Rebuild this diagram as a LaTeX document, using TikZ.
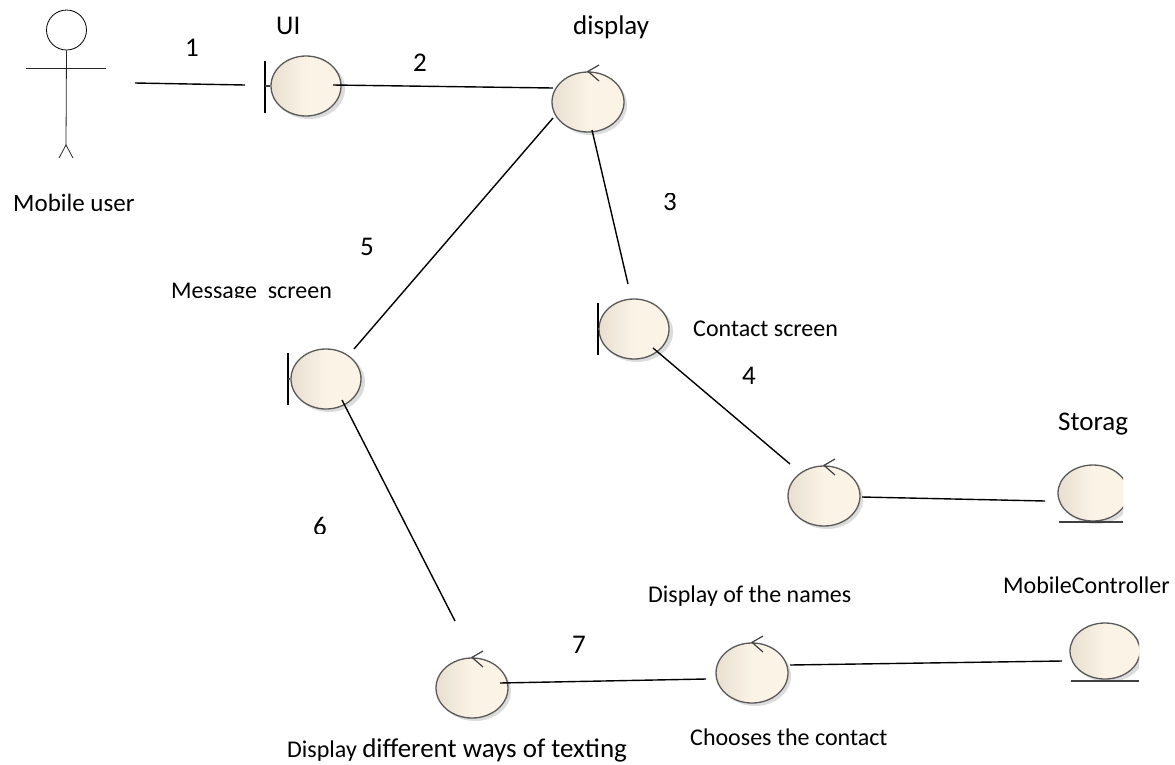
\documentclass[tikz,border=0pt]{standalone}
\usepackage{fontspec}
\usetikzlibrary{shapes.geometric}
\setmainfont{Carlito}
\definecolor{cL}{HTML}{E8DFD0}
\definecolor{cR}{HTML}{FBF3E6}
\newcommand{\shadowat}[3]{\fill[black!30,opacity=.45] (#1+3,#2+3) ellipse [x radius=36,y radius=#3];}
\begin{document}
\begin{tikzpicture}[x=1pt,y=-1pt,
  lbl/.style={font=\fontsize{24}{28}\selectfont,text=black,inner sep=0pt,anchor=base west},
  lblb/.style={font=\fontsize{27}{30}\selectfont,text=black,inner sep=0pt,anchor=base west},
  num/.style={font=\fontsize{27}{30}\selectfont,text=black,inner sep=0pt,anchor=base},
  link/.style={draw=black,line width=1.4pt},
  thin line/.style={draw=black!85,line width=.8pt},
  bubble/.style={ellipse,draw=black!65,line width=1.3pt,minimum width=72pt,minimum height=60pt,inner sep=0pt,
     left color=cL,right color=cR,middle color=cR,shading angle=90},
  mark line/.style={draw=black!75,line width=1.2pt},
]
\useasboundingbox (0,0) rectangle (1175,764);
% Actor
\node[circle,draw=black,line width=.8pt,minimum size=40pt,inner sep=0pt] (head) at (66.5,30) {};
\coordinate (crotch) at (66,145);
\coordinate (armL) at (26,68);
\coordinate (armR) at (106,68);
\coordinate (footL) at (59,158);
\coordinate (footR) at (73,158);
\draw[thin line] (head.south) -- (crotch);
\draw[thin line] (armL) -- (armR);
\draw[thin line] (footL) -- (crotch) -- (footR);
% Boundary objects
\shadowat{306}{86}{30}
\node[bubble,minimum width=70pt] (ui) at (306,86) {};
\coordinate (uiT) at (265,61); \coordinate (uiB) at (265,113); \coordinate (uiM) at (265,86);
\draw[mark line,draw=black] (uiT) -- (uiB); \draw[mark line] (uiM) -- (ui.west);
\shadowat{634}{329}{30}
\node[bubble,minimum width=70pt] (contact) at (634,329) {};
\coordinate (coT) at (598,303); \coordinate (coB) at (598,355); \coordinate (coM) at (598,329);
\draw[mark line,draw=black] (coT) -- (coB); \draw[mark line] (coM) -- (contact.west);
\shadowat{326}{379}{30}
\node[bubble,minimum width=70pt] (message) at (326,379) {};
\coordinate (meT) at (288,353); \coordinate (meB) at (288,405); \coordinate (meM) at (288,379);
\draw[mark line,draw=black] (meT) -- (meB); \draw[mark line] (meM) -- (message.west);
% Control objects
\shadowat{588}{102}{30}
\node[bubble] (display) at (588,102) {};
\coordinate (dA) at (599,65); \coordinate (dB) at (599,81);
\draw[mark line] (dA) -- (display.north) -- (dB);
\shadowat{824}{496}{30}
\node[bubble] (names) at (824,496) {};
\coordinate (nA) at (835,459); \coordinate (nB) at (835,475);
\draw[mark line] (nA) -- (names.north) -- (nB);
\shadowat{472}{688}{30}
\node[bubble] (texting) at (472,688) {};
\coordinate (tA) at (483,651); \coordinate (tB) at (483,667);
\draw[mark line] (tA) -- (texting.north) -- (tB);
\shadowat{752}{673}{30}
\node[bubble] (chooses) at (752,673) {};
\coordinate (cA) at (763,636); \coordinate (cB) at (763,652);
\draw[mark line] (cA) -- (chooses.north) -- (cB);
% Entity objects (cut off at the right)
\begin{scope}
\clip (1050,455) rectangle (1123,530);
\shadowat{1093}{493}{28}
\node[bubble,minimum width=70pt,minimum height=56pt] (storage) at (1093,493) {};
\end{scope}
\coordinate (sL) at (1059,522); \coordinate (sR) at (1123,522);
\draw[mark line] (sL) -- (sR);
\begin{scope}
\clip (1062,612) rectangle (1139,690);
\shadowat{1105}{651}{28}
\node[bubble,minimum width=70pt,minimum height=56pt] (mobile) at (1105,651) {};
\end{scope}
\coordinate (mL) at (1071,681); \coordinate (mR) at (1139,681);
\draw[mark line] (mL) -- (mR);
% Connectors
\coordinate (l1a) at (135,83);  \coordinate (l1b) at (245,85);
\coordinate (l2a) at (333,85);  \coordinate (l2b) at (553,88);
\coordinate (l3a) at (592,130); \coordinate (l3b) at (628,284);
\coordinate (l5a) at (553,118); \coordinate (l5b) at (354,349);
\coordinate (l4a) at (653,348); \coordinate (l4b) at (790,464);
\coordinate (l8a) at (862,497); \coordinate (l8b) at (1045,501);
\coordinate (l6a) at (342,400); \coordinate (l6b) at (455,621);
\coordinate (l7a) at (500,683); \coordinate (l7b) at (706,679);
\coordinate (l9a) at (790,665); \coordinate (l9b) at (1062,661);
\draw[link] (l1a) -- (l1b);
\draw[link] (l2a) -- (l2b);
\draw[link] (l3a) -- (l3b);
\draw[link] (l5a) -- (l5b);
\draw[link] (l4a) -- (l4b);
\draw[link] (l8a) -- (l8b);
\draw[link] (l6a) -- (l6b);
\draw[link] (l7a) -- (l7b);
\draw[link] (l9a) -- (l9b);
% Labels
\node[num] (t1) at (192,56) {1};
\node[num] (t2) at (420,71) {2};
\begin{scope}\clip (640,193) rectangle (700,225);
\node[num] (t3) at (670,210) {3};
\end{scope}
\node[num] (t4) at (749,384) {4};
\node[num] (t5) at (367,255) {5};
\begin{scope}\clip (300,505) rectangle (340,533);
\node[num] (t6) at (320,535) {6};
\end{scope}
\node[num] (t7) at (579,653) {7};
\node[lblb] (tui) at (276,34) {UI};
\node[lblb] (tdisp) at (573,34) {display};
\begin{scope}\clip (0,185) rectangle (150,210);
\node[lbl,font=\fontsize{25}{28}\selectfont] (tuser) at (13,211) {Mobile user};
\end{scope}
\begin{scope}\clip (150,270) rectangle (350,297);
\node[lbl] (tmsg) at (171,298) {Message\ \ screen};
\end{scope}
\node[lbl] (tcont) at (693,336) {Contact screen};
\node[lblb] (tstor) at (1058,430) {Storag};
\node[lbl] (tnames) at (648,602) {Display of the names};
\node[lbl] (tmob) at (1003,593) {MobileController};
\node[lbl] (tchoose) at (690,745) {Chooses the contact};
\node[lbl] (ttext) at (287,757) {Display {\fontsize{27}{30}\selectfont different ways of texting}};
\end{tikzpicture}
\end{document}
